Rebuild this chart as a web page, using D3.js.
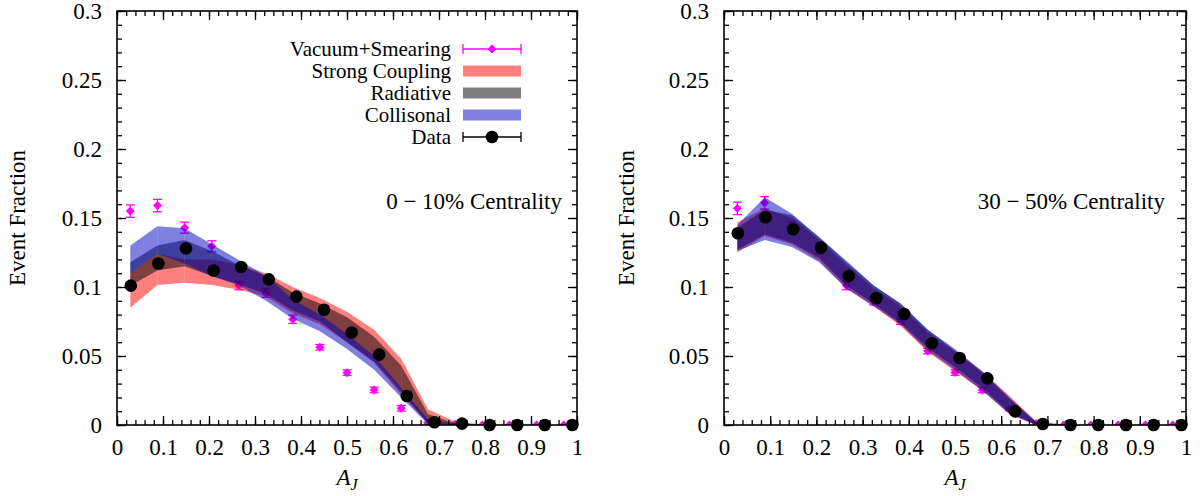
<!DOCTYPE html>
<html>
<head>
<meta charset="utf-8">
<script src="https://cdn.jsdelivr.net/npm/d3@7"></script>
<style>
  body { margin: 0; background: #fff; }
</style>
</head>
<body>
<svg id="chart" width="1203" height="496"></svg>
<script>
// A_J bin centres used by the theory bands and the vacuum+smearing points
const binCentres = [0.029, 0.088, 0.147, 0.206, 0.265, 0.324, 0.382, 0.441, 0.5, 0.559, 0.618, 0.676, 0.735, 0.794, 0.853, 0.912, 0.971];
// A_J bin centres of the measured data
const dataAJ = [0.03, 0.09, 0.15, 0.21, 0.27, 0.33, 0.39, 0.45, 0.51, 0.57, 0.63, 0.69, 0.75, 0.81, 0.87, 0.93, 0.99];

// ---- 0-10% centrality ----
const vacCentral    = [0.155, 0.159, 0.143, 0.1295, 0.101, 0.0955, 0.0766, 0.0563, 0.0379, 0.0254, 0.0121, 0.001, 0.0005, 0, 0, 0, 0];
const vacCentralErr = [0.0045, 0.0045, 0.004, 0.004, 0.003, 0.003, 0.003, 0.002, 0.002, 0.002, 0.002, 0.001, 0.001, 0, 0, 0, 0];
const scCentralLo   = [0.085, 0.1015, 0.103, 0.1015, 0.098, 0.093, 0.081, 0.073, 0.060, 0.045, 0.022, 0.001, 0, 0, 0, 0, 0];
const scCentralHi   = [0.110, 0.124, 0.120, 0.120, 0.116, 0.110, 0.100, 0.092, 0.082, 0.069, 0.048, 0.0114, 0.0024, 0.0005, 0, 0, 0];
const radCentralLo  = [0.101, 0.112, 0.115, 0.108, 0.102, 0.095, 0.083, 0.075, 0.060, 0.046, 0.024, 0.001, 0, 0, 0, 0, 0];
const radCentralHi  = [0.118, 0.130, 0.134, 0.126, 0.116, 0.108, 0.096, 0.088, 0.078, 0.064, 0.043, 0.008, 0.001, 0, 0, 0, 0];
const colCentralLo  = [0.110, 0.124, 0.117, 0.108, 0.101, 0.090, 0.077, 0.068, 0.055, 0.040, 0.020, 0.0005, 0, 0, 0, 0, 0];
const colCentralHi  = [0.130, 0.144, 0.1425, 0.131, 0.1196, 0.108, 0.091, 0.080, 0.066, 0.050, 0.027, 0.004, 0.001, 0, 0, 0, 0];
const dataCentral    = [0.101, 0.117, 0.128, 0.112, 0.1145, 0.1055, 0.093, 0.0835, 0.067, 0.051, 0.021, 0.002, 0.001, 0, 0, 0, 0];
const dataCentralErr = [0.003, 0.003, 0.003, 0.003, 0.003, 0.003, 0.003, 0.003, 0.003, 0.003, 0.002, 0.001, 0.001, 0, 0, 0, 0];

// ---- 30-50% centrality ----
const vacPeriph    = [0.157, 0.161, 0.143, 0.128, 0.101, 0.090, 0.075, 0.0536, 0.038, 0.0254, 0.0114, 0.001, 0, 0, 0, 0, 0];
const vacPeriphErr = [0.0045, 0.0045, 0.004, 0.004, 0.003, 0.003, 0.002, 0.002, 0.002, 0.002, 0.001, 0.001, 0, 0, 0, 0, 0];
const scPeriphLo   = [0.125, 0.137, 0.131, 0.119, 0.099, 0.086, 0.072, 0.053, 0.039, 0.025, 0.008, 0, 0, 0, 0, 0, 0];
const scPeriphHi   = [0.147, 0.157, 0.150, 0.134, 0.116, 0.099, 0.086, 0.067, 0.053, 0.039, 0.021, 0.0025, 0.0005, 0, 0, 0, 0];
const radPeriphLo  = [0.127, 0.138, 0.132, 0.121, 0.101, 0.088, 0.074, 0.056, 0.042, 0.027, 0.009, 0, 0, 0, 0, 0, 0];
const radPeriphHi  = [0.143, 0.156, 0.152, 0.136, 0.118, 0.101, 0.088, 0.069, 0.054, 0.038, 0.019, 0.002, 0, 0, 0, 0, 0];
const colPeriphLo  = [0.126, 0.134, 0.129, 0.118, 0.099, 0.086, 0.073, 0.054, 0.040, 0.025, 0.008, 0, 0, 0, 0, 0, 0];
const colPeriphHi  = [0.145, 0.165, 0.153, 0.136, 0.119, 0.101, 0.088, 0.069, 0.055, 0.039, 0.020, 0.002, 0, 0, 0, 0, 0];
const dataPeriph    = [0.139, 0.1505, 0.1418, 0.1285, 0.108, 0.092, 0.0804, 0.0592, 0.0486, 0.0338, 0.0099, 0.0007, 0, 0, 0, 0, 0];
const dataPeriphErr = [0.003, 0.003, 0.003, 0.003, 0.003, 0.003, 0.003, 0.002, 0.002, 0.002, 0.002, 0.001, 0, 0, 0, 0, 0];

const xTicks = [0, 0.1, 0.2, 0.3, 0.4, 0.5, 0.6, 0.7, 0.8, 0.9, 1];
const yTicks = [0, 0.05, 0.1, 0.15, 0.2, 0.25, 0.3];
const legendNames = ['Vacuum+Smearing', 'Strong Coupling', 'Radiative', 'Collisonal', 'Data'];

const MAGENTA = '#ff00ff';
const bandColors = { sc: '#ff0000', rad: '#000000', col: '#0000c0' };
const FONT = 23;
const SERIF = '"Liberation Serif", "DejaVu Serif", "Times New Roman", serif';

const svg = d3.select('#chart').style('font-family', SERIF);

function diamond(r) {
    return `M0,${-r}L${r},0L0,${r}L${-r},0Z`;
}

function drawPanel(p) {
    const g = svg.append('g');
    const x = d3.scaleLinear().domain([0, 1]).range([p.left, p.right]);
    const y = d3.scaleLinear().domain([0, 0.3]).range([425, 11]);

    const clipId = 'clip-' + p.id;
    svg.append('clipPath').attr('id', clipId)
        .append('rect')
        .attr('x', p.left).attr('y', 11)
        .attr('width', p.right - p.left).attr('height', 425 - 11);

    const plot = g.append('g').attr('clip-path', `url(#${clipId})`);

    // vacuum + smearing (drawn first, under the bands)
    const vac = binCentres.map((a, i) => ({ a, v: p.vac[i], e: p.vacErr[i] }));
    const vg = plot.append('g').attr('stroke', MAGENTA).attr('stroke-width', 1.3);
    vac.forEach(d => {
        if (d.e <= 0) return;
        vg.append('line').attr('x1', x(d.a)).attr('x2', x(d.a)).attr('y1', y(d.v - d.e)).attr('y2', y(d.v + d.e));
        [d.v - d.e, d.v + d.e].forEach(v => {
            vg.append('line').attr('x1', x(d.a) - 4.5).attr('x2', x(d.a) + 4.5).attr('y1', y(v)).attr('y2', y(v));
        });
    });
    plot.selectAll('.vac').data(vac).enter().append('path')
        .attr('class', 'vac')
        .attr('d', diamond(4.5))
        .attr('transform', d => `translate(${x(d.a)},${y(d.v)})`)
        .attr('fill', MAGENTA);

    // theory bands, one quad per bin step (gives the faint seams of the original)
    const area = d3.area().x(d => x(d.a)).y0(d => y(d.lo)).y1(d => y(d.hi));
    p.bands.forEach(b => {
        const pts = binCentres.map((a, i) => ({ a, lo: b.lo[i], hi: b.hi[i] }));
        const bg = plot.append('g').attr('fill', b.color).attr('fill-opacity', 0.5);
        for (let i = 0; i < pts.length - 1; i++) {
            bg.append('path').attr('d', area([pts[i], pts[i + 1]]));
        }
    });

    // measured data
    const dat = dataAJ.map((a, i) => ({ a, v: p.data[i], e: p.dataErr[i] }));
    const dg = plot.append('g').attr('stroke', '#000').attr('stroke-width', 1.3);
    dat.forEach(d => {
        if (d.e <= 0) return;
        dg.append('line').attr('x1', x(d.a)).attr('x2', x(d.a)).attr('y1', y(d.v - d.e)).attr('y2', y(d.v + d.e));
    });
    g.selectAll('.dat').data(dat).enter().append('circle')
        .attr('class', 'dat')
        .attr('cx', d => x(d.a)).attr('cy', d => y(d.v))
        .attr('r', 6.3).attr('fill', '#000');

    // axes: major + minor ticks pointing inward on all four sides
    const fmt = d => String(+d.toFixed(2));
    const styleAxis = sel => {
        sel.attr('font-size', FONT).attr('font-family', null);
        sel.selectAll('text').style('font-family', SERIF);
        sel.select('.domain').remove();
        sel.selectAll('line').attr('stroke', '#000').attr('stroke-width', 1.3);
    };
    const minorX = d3.range(0, 1.0001, 0.02);
    const minorY = d3.range(0, 0.3001, 0.01);

    g.append('g').attr('transform', `translate(0,${y(0)})`)
        .call(d3.axisBottom(x).tickValues(xTicks).tickFormat(fmt).tickSize(-9).tickPadding(14))
        .call(styleAxis);
    g.append('g').attr('transform', `translate(0,${y(0)})`)
        .call(d3.axisBottom(x).tickValues(minorX).tickFormat('').tickSize(-5))
        .call(styleAxis);
    g.append('g').attr('transform', `translate(0,${y(0.3)})`)
        .call(d3.axisTop(x).tickValues(xTicks).tickFormat('').tickSize(-9))
        .call(styleAxis);
    g.append('g').attr('transform', `translate(0,${y(0.3)})`)
        .call(d3.axisTop(x).tickValues(minorX).tickFormat('').tickSize(-5))
        .call(styleAxis);

    g.append('g').attr('transform', `translate(${p.left},0)`)
        .call(d3.axisLeft(y).tickValues(yTicks).tickFormat(fmt).tickSize(-9).tickPadding(15))
        .call(styleAxis);
    g.append('g').attr('transform', `translate(${p.left},0)`)
        .call(d3.axisLeft(y).tickValues(minorY).tickFormat('').tickSize(-5))
        .call(styleAxis);
    g.append('g').attr('transform', `translate(${p.right},0)`)
        .call(d3.axisRight(y).tickValues(yTicks).tickFormat('').tickSize(-9))
        .call(styleAxis);
    g.append('g').attr('transform', `translate(${p.right},0)`)
        .call(d3.axisRight(y).tickValues(minorY).tickFormat('').tickSize(-5))
        .call(styleAxis);

    g.append('rect')
        .attr('x', p.left).attr('y', y(0.3))
        .attr('width', p.right - p.left).attr('height', y(0) - y(0.3))
        .attr('fill', 'none').attr('stroke', '#000').attr('stroke-width', 1.6);

    // axis titles
    const xt = g.append('text')
        .attr('x', (p.left + p.right) / 2).attr('y', 485)
        .attr('text-anchor', 'middle').attr('font-size', FONT)
        .style('font-family', SERIF);
    xt.append('tspan').attr('font-style', 'italic').text('A');
    xt.append('tspan').attr('font-style', 'italic').attr('font-size', 16).attr('dy', 5).text('J');

    g.append('text')
        .attr('transform', `translate(${p.yTitleX},${(y(0) + y(0.3)) / 2}) rotate(-90)`)
        .attr('text-anchor', 'middle').attr('dy', '0.35em')
        .attr('font-size', FONT)
        .style('font-family', SERIF)
        .text('Event Fraction');

    g.append('text')
        .attr('x', p.noteX).attr('y', 209)
        .attr('text-anchor', 'end').attr('font-size', FONT)
        .style('font-family', SERIF)
        .text(p.note);

    return { x, y };
}

drawPanel({
    id: 'central', left: 117, right: 577, yTitleX: 17,
    vac: vacCentral, vacErr: vacCentralErr,
    bands: [
        { lo: scCentralLo, hi: scCentralHi, color: bandColors.sc },
        { lo: radCentralLo, hi: radCentralHi, color: bandColors.rad },
        { lo: colCentralLo, hi: colCentralHi, color: bandColors.col }
    ],
    data: dataCentral, dataErr: dataCentralErr,
    note: '0 \u2212 10% Centrality', noteX: 562
});

drawPanel({
    id: 'periph', left: 724, right: 1186, yTitleX: 626,
    vac: vacPeriph, vacErr: vacPeriphErr,
    bands: [
        { lo: scPeriphLo, hi: scPeriphHi, color: bandColors.sc },
        { lo: radPeriphLo, hi: radPeriphHi, color: bandColors.rad },
        { lo: colPeriphLo, hi: colPeriphHi, color: bandColors.col }
    ],
    data: dataPeriph, dataErr: dataPeriphErr,
    note: '30 \u2212 50% Centrality', noteX: 1165
});

// legend (left panel only)
const legend = svg.append('g');
const rowY = d3.scaleLinear().domain([0, legendNames.length - 1]).range([49, 137]);
const sx0 = 463, sx1 = 521, sxm = (sx0 + sx1) / 2;
legendNames.forEach((name, i) => {
    const cy = rowY(i);
    legend.append('text')
        .attr('x', 451).attr('y', cy + 7)
        .attr('text-anchor', 'end').attr('font-size', 21)
        .style('font-family', SERIF)
        .text(name);
    if (i === 0 || i === 4) {
        const c = i === 0 ? MAGENTA : '#000';
        const lg = legend.append('g').attr('stroke', c).attr('stroke-width', 1.3);
        lg.append('line').attr('x1', sx0).attr('x2', sx1).attr('y1', cy).attr('y2', cy);
        lg.append('line').attr('x1', sx0).attr('x2', sx0).attr('y1', cy - 5).attr('y2', cy + 5);
        lg.append('line').attr('x1', sx1).attr('x2', sx1).attr('y1', cy - 5).attr('y2', cy + 5);
        if (i === 0) {
            legend.append('path').attr('d', diamond(4.5)).attr('transform', `translate(${sxm},${cy})`).attr('fill', c);
        } else {
            legend.append('circle').attr('cx', sxm).attr('cy', cy).attr('r', 6.3).attr('fill', c);
        }
    } else {
        const col = [null, bandColors.sc, bandColors.rad, bandColors.col][i];
        legend.append('rect')
            .attr('x', sx0).attr('y', cy - 5.5)
            .attr('width', sx1 - sx0).attr('height', 11)
            .attr('fill', col).attr('fill-opacity', 0.5);
    }
});
</script>
</body>
</html>
